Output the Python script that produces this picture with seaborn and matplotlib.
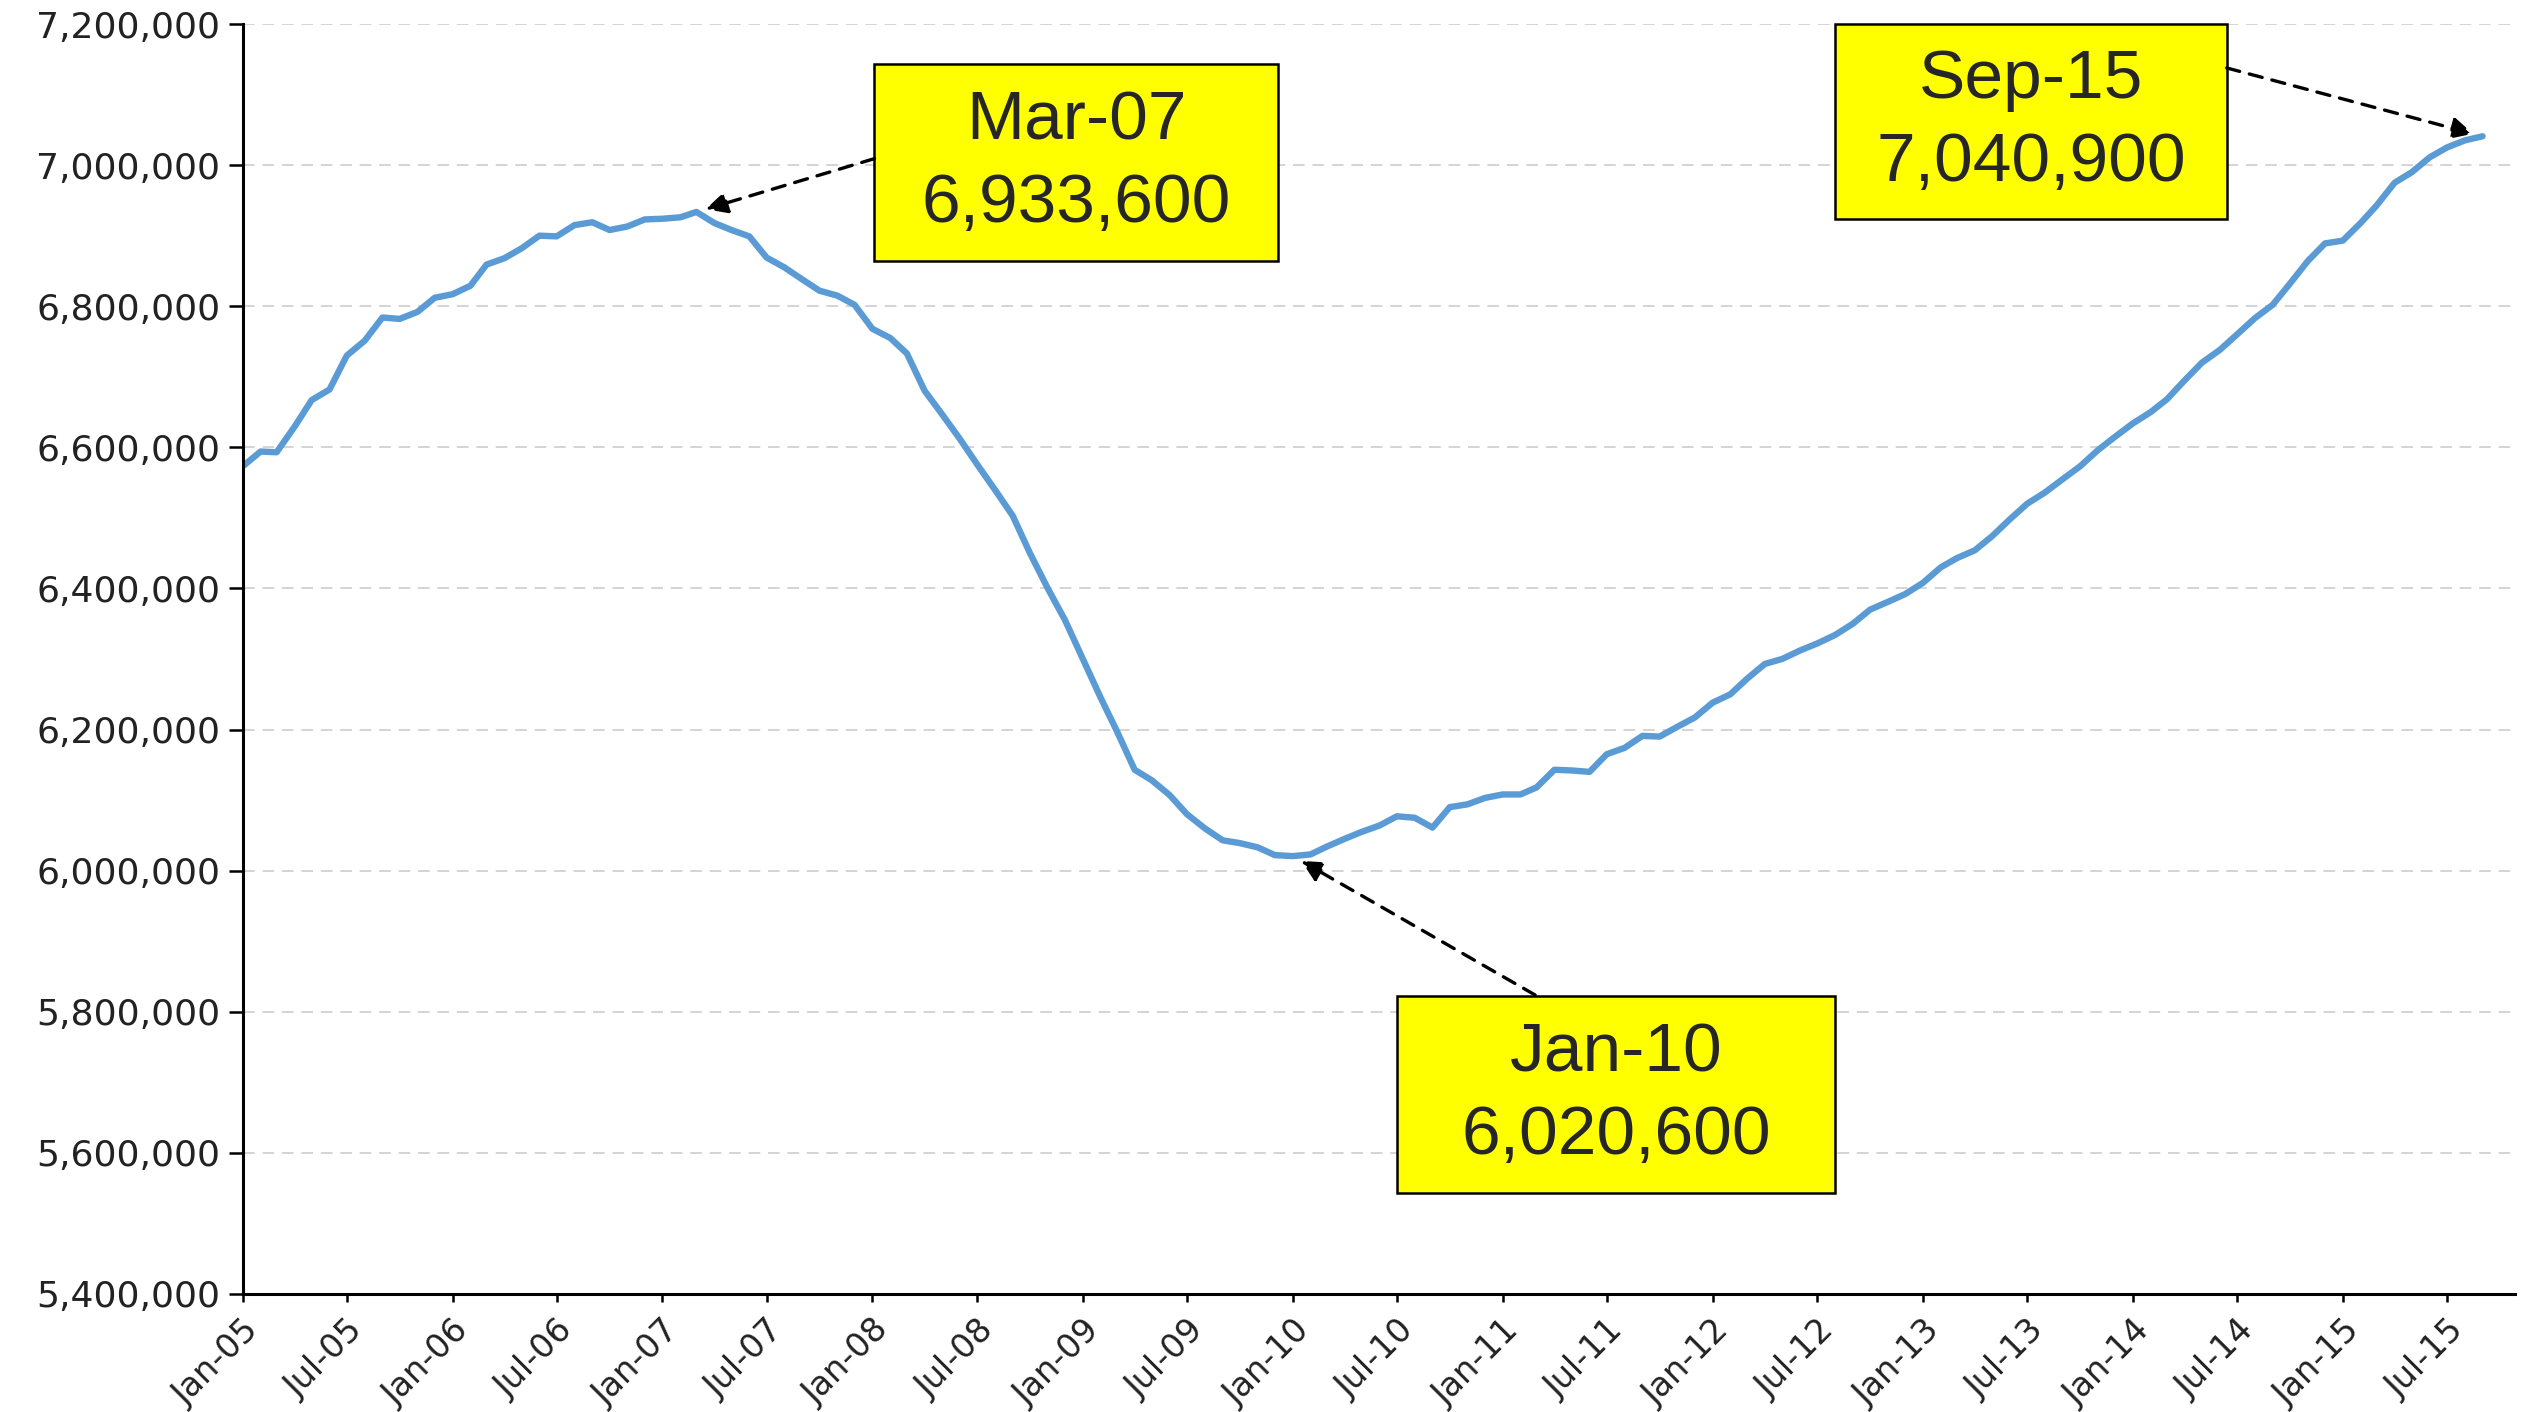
import pandas as pd
import matplotlib
matplotlib.use('Agg')
import matplotlib.pyplot as plt
import matplotlib.ticker as mticker
from matplotlib.patches import Rectangle
import seaborn as sns

# Monthly series, Jan-05 .. Sep-15
values = [
    6573000, 6594000, 6593000, 6629000, 6667000, 6682000,
    6730000, 6751000, 6784000, 6782000, 6792000, 6812000,
    6817000, 6829000, 6859000, 6868000, 6882000, 6900000,
    6899000, 6915000, 6919000, 6908000, 6913000, 6923000,
    6924000, 6926000, 6933600, 6918000, 6908000, 6899000,
    6869000, 6855000, 6838000, 6822000, 6815000, 6802000,
    6768000, 6755000, 6733000, 6680000, 6647000, 6612000,
    6576000, 6540000, 6503000, 6450000, 6400000, 6355000,
    6300000, 6245000, 6198000, 6143000, 6128000, 6107000,
    6080000, 6060000, 6043000, 6039000, 6033000, 6022000,
    6020600, 6023000, 6034000, 6045000, 6055000, 6064000,
    6077000, 6075000, 6061000, 6090000, 6094000, 6103000,
    6108000, 6108000, 6118000, 6143000, 6142000, 6140000,
    6165000, 6174000, 6191000, 6190000, 6204000, 6217000,
    6238000, 6250000, 6272000, 6293000, 6300000, 6312000,
    6322000, 6334000, 6350000, 6370000, 6381000, 6392000,
    6408000, 6430000, 6443000, 6454000, 6474000, 6498000,
    6520000, 6536000, 6555000, 6573000, 6596000, 6615000,
    6634000, 6650000, 6668000, 6695000, 6720000, 6738000,
    6760000, 6783000, 6802000, 6832000, 6864000, 6889000,
    6893000, 6918000, 6943000, 6975000, 6990000, 7011000,
    7025000, 7035000, 7040900,
]
start_month = '2005-01-01'

tick_labels = ['Jan-05', 'Jul-05', 'Jan-06', 'Jul-06', 'Jan-07', 'Jul-07',
               'Jan-08', 'Jul-08', 'Jan-09', 'Jul-09', 'Jan-10', 'Jul-10',
               'Jan-11', 'Jul-11', 'Jan-12', 'Jul-12', 'Jan-13', 'Jul-13',
               'Jan-14', 'Jul-14', 'Jan-15', 'Jul-15']

# callouts: label, value, month
callout_labels = ['Mar-07', 'Jan-10', 'Sep-15']
callout_values = [6933600, 6020600, 7040900]
callout_months = ['2007-03-01', '2010-01-01', '2015-09-01']

df = pd.DataFrame({'date': pd.date_range(start_month, periods=len(values), freq='MS'),
                   'value': values})

sns.set_style('white')
plt.rcParams['font.family'] = ['DejaVu Sans']

fig = plt.figure(figsize=(25.28, 14.12), dpi=100)
ax = fig.add_axes([0.096, 0.0836, 0.899, 0.8994])

sns.lineplot(data=df, x='date', y='value', ax=ax, color='#5b9bd5', linewidth=4.6)

ax.set_ylim(5400000, 7200000)
ax.set_yticks(range(5400000, 7200001, 200000))
ax.yaxis.set_major_formatter(mticker.FuncFormatter(lambda v, p: f'{int(v):,}'))
ax.set_xlim(pd.Timestamp('2005-01-01'), pd.Timestamp('2015-10-28'))
ax.set_xticks(pd.date_range('2005-01-01', '2015-07-01', freq='6MS'))
ax.set_xticklabels(tick_labels, rotation=45, ha='right', rotation_mode='anchor')
ax.set_xlabel('')
ax.set_ylabel('')

ax.yaxis.grid(True, linestyle=(0, (6, 4)), color='#d4d4d4', linewidth=1.4)
ax.set_axisbelow(True)
for s in ['top', 'right']:
    ax.spines[s].set_visible(False)
for s in ['left', 'bottom']:
    ax.spines[s].set_color('black')
    ax.spines[s].set_linewidth(2.2)

ax.tick_params(axis='y', direction='out', length=10, width=1.8, color='black',
               labelsize=26, labelcolor='#222222', pad=6, left=True)
ax.tick_params(axis='x', direction='out', length=6, width=1.8, color='black',
               labelsize=24, labelcolor='#222222', pad=8, bottom=True)

# callout boxes in axes fraction
boxes = [(0.278, 0.813, 0.1775, 0.1555), (0.508, 0.0795, 0.1927, 0.1551), (0.7007, 0.8465, 0.1723, 0.1535)]
arrow_starts = [(0.278, 0.894), (0.5687, 0.2354), (0.873, 0.9654)]
for (x0, y0, w, h), (sx, sy), lab, val, mon in zip(boxes, arrow_starts, callout_labels,
                                                   callout_values, callout_months):
    ax.add_patch(Rectangle((x0, y0), w, h, transform=ax.transAxes, facecolor='#ffff00',
                           edgecolor='black', linewidth=1.8, zorder=5, clip_on=False))
    ax.text(x0 + w / 2, y0 + h / 2, f'{lab}\n{val:,}', transform=ax.transAxes,
            ha='center', va='center', fontsize=50, family='Liberation Sans',
            linespacing=1.38, zorder=6)
    ax.annotate('', xy=(pd.Timestamp(mon), val), xycoords='data',
                xytext=(sx, sy), textcoords='axes fraction',
                arrowprops=dict(arrowstyle='-|>', linestyle=(0, (4, 3)), color='black',
                                lw=2.4, mutation_scale=32, shrinkA=0, shrinkB=7),
                zorder=6, annotation_clip=False)

fig.savefig('out.png', dpi=100)
